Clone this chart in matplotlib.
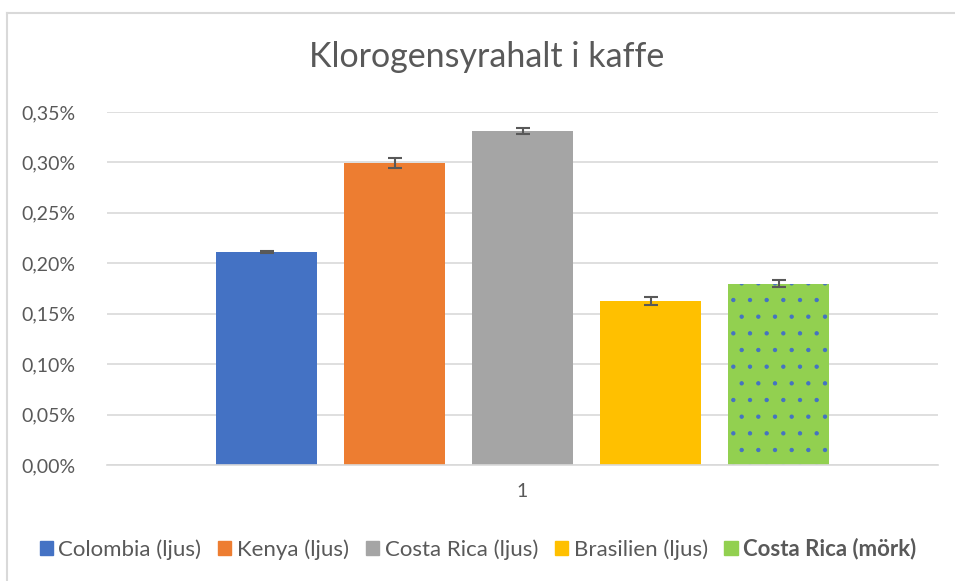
import matplotlib.pyplot as plt
from matplotlib.lines import Line2D
from matplotlib.ticker import FuncFormatter

plt.rcParams['font.family'] = ['Lato', 'DejaVu Sans']
plt.rcParams['hatch.linewidth'] = 0.7

# data (klorogensyrahalt i procent)
serier = ['Colombia (ljus)', 'Kenya (ljus)', 'Costa Rica (ljus)', 'Brasilien (ljus)', 'Costa Rica (mörk)']
halt = [0.211, 0.2995, 0.331, 0.1625, 0.1795]
fel = [0.001, 0.005, 0.003, 0.004, 0.0035]
farger = ['#4472C4', '#ED7D31', '#A5A5A5', '#FFC000', '#92D050']
kategori = '1'

W, H = 955, 581
fig = plt.figure(figsize=(W / 100, H / 100), dpi=100)
ax = fig.add_axes([107 / W, (H - 465) / H, (938 - 107) / W, (465 - 112) / H])

steg = 128 / 831
bredd = 101 / 831
for i, (namn, v, e, c) in enumerate(zip(serier, halt, fel, farger)):
    x = (i - 2) * steg
    if i == 4:
        ax.bar(x, v, bredd, color=c, edgecolor='#4472C4', linewidth=0, hatch='.', label=namn, zorder=2)
    else:
        ax.bar(x, v, bredd, color=c, linewidth=0, label=namn, zorder=2)
    ax.errorbar(x, v, yerr=e, fmt='none', ecolor='#595959', elinewidth=1.5,
                capsize=5, capthick=1.5, zorder=3)

ax.set_xlim(-0.5, 0.5)
ax.set_ylim(0, 0.35)
ax.set_yticks([i * 0.05 for i in range(8)])
ax.yaxis.set_major_formatter(FuncFormatter(lambda v, p: f'{v:.2f}%'.replace('.', ',')))
ax.set_xticks([0])
ax.set_xticklabels([kategori])
ax.grid(axis='y', color='#D9D9D9', linewidth=1.2, zorder=0)
ax.set_axisbelow(True)
for s in ['top', 'right', 'left']:
    ax.spines[s].set_visible(False)
ax.spines['bottom'].set_color('#D9D9D9')
ax.spines['bottom'].set_linewidth(1.2)
ax.tick_params(axis='both', length=0, labelsize=14, labelcolor='#595959')
ax.tick_params(axis='y', pad=23)
ax.tick_params(axis='x', pad=13)

fig.text(487 / W, 1 - 57 / H, 'Klorogensyrahalt i kaffe', ha='center', va='center',
         fontsize=24.5, color='#595959')

handles = [plt.Rectangle((0, 0), 1, 1, color=c) for c in farger]
leg = fig.legend(handles, serier, loc='center', bbox_to_anchor=(478 / W, 1 - 549 / H), ncol=5,
                 frameon=False, fontsize=16, handlelength=0.6, handleheight=0.6,
                 handletextpad=0.25, columnspacing=0.75, borderaxespad=0)
for t in leg.get_texts():
    t.set_color('#595959')
leg.get_texts()[-1].set_fontweight('bold')

# chart border (cropped)
fig.add_artist(Line2D([6.5 / W, 6.5 / W], [0, 1 - 12.5 / H], color='#D9D9D9', linewidth=1.5))
fig.add_artist(Line2D([6.5 / W, 1], [1 - 12.5 / H, 1 - 12.5 / H], color='#D9D9D9', linewidth=1.5))

fig.savefig('out.png', dpi=100)
